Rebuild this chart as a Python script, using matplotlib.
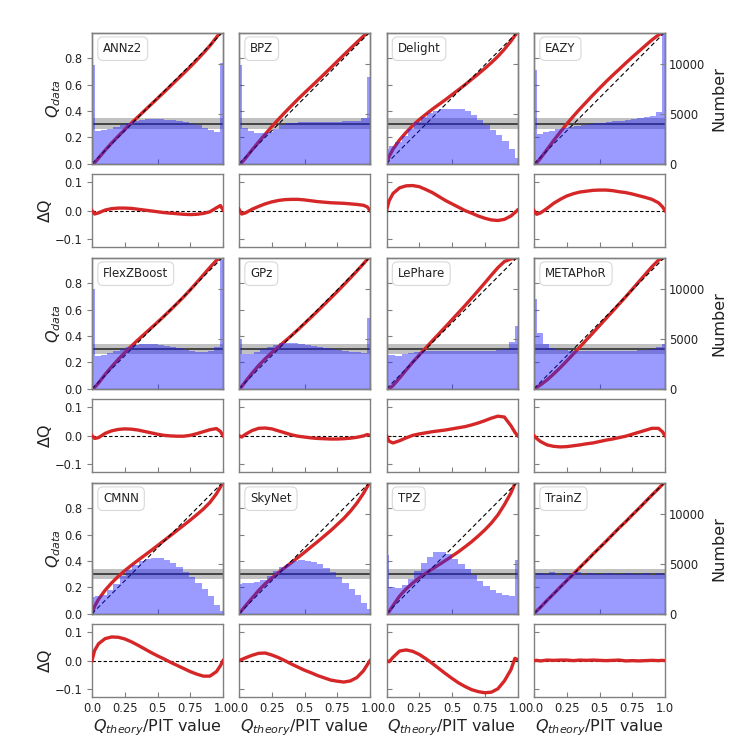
import numpy as np
import matplotlib
matplotlib.use("Agg")
import matplotlib.pyplot as plt

plt.rcParams['font.family'] = ['DejaVu Sans']

methods = ["ANNz2", "BPZ", "Delight", "EAZY",
           "FlexZBoost", "GPz", "LePhare", "METAPhoR",
           "CMNN", "SkyNet", "TPZ", "TrainZ"]

# Q_theory sample points for the Delta Q curves
q_theory = [0.0, 0.02, 0.05, 0.10, 0.15, 0.20, 0.25, 0.30, 0.35, 0.40, 0.45, 0.50,
            0.55, 0.60, 0.65, 0.70, 0.75, 0.80, 0.85, 0.90, 0.95, 0.98, 1.0]

# Delta Q = Q_data - Q_theory
dq_annz2 = [0.0, -0.012, -0.008, 0.002, 0.007, 0.009, 0.009, 0.008, 0.005, 0.002, -0.001, -0.004,
            -0.007, -0.009, -0.011, -0.013, -0.014, -0.013, -0.010, -0.004, 0.010, 0.018, 0.003]
dq_bpz = [0.005, -0.012, -0.008, 0.005, 0.015, 0.024, 0.031, 0.036, 0.039, 0.040, 0.040, 0.038,
          0.035, 0.032, 0.030, 0.028, 0.027, 0.026, 0.024, 0.022, 0.019, 0.013, 0.0]
dq_delight = [0.0, 0.035, 0.061, 0.081, 0.088, 0.089, 0.085, 0.075, 0.064, 0.050, 0.036, 0.024,
              0.012, 0.0, -0.009, -0.019, -0.027, -0.033, -0.035, -0.031, -0.019, -0.007, 0.002]
dq_eazy = [0.0, -0.013, -0.008, 0.008, 0.026, 0.040, 0.052, 0.060, 0.066, 0.069, 0.072, 0.073,
           0.073, 0.071, 0.067, 0.064, 0.059, 0.053, 0.047, 0.040, 0.028, 0.014, 0.0]
dq_flexzboost = [0.0, -0.010, -0.007, 0.008, 0.017, 0.022, 0.024, 0.023, 0.020, 0.015, 0.010, 0.005,
                 0.001, -0.001, -0.002, -0.002, 0.001, 0.007, 0.014, 0.021, 0.025, 0.015, 0.0]
dq_gpz = [0.0, -0.005, 0.005, 0.018, 0.026, 0.027, 0.024, 0.017, 0.010, 0.003, -0.002, -0.005,
          -0.008, -0.010, -0.011, -0.012, -0.012, -0.011, -0.009, -0.006, -0.001, 0.004, 0.001]
dq_lephare = [0.0, -0.020, -0.026, -0.018, -0.008, 0.001, 0.006, 0.010, 0.014, 0.017, 0.020, 0.024,
              0.028, 0.032, 0.038, 0.045, 0.053, 0.062, 0.069, 0.066, 0.035, 0.012, 0.0]
dq_metaphor = [0.0, -0.010, -0.021, -0.033, -0.038, -0.040, -0.039, -0.036, -0.033, -0.029, -0.026, -0.021,
               -0.016, -0.012, -0.007, -0.002, 0.005, 0.012, 0.019, 0.026, 0.026, 0.014, 0.0]
dq_cmnn = [0.0, 0.036, 0.060, 0.078, 0.084, 0.083, 0.077, 0.067, 0.055, 0.042, 0.029, 0.017,
           0.006, -0.006, -0.017, -0.028, -0.039, -0.048, -0.055, -0.055, -0.039, -0.018, 0.0]
dq_skynet = [0.0, 0.004, 0.010, 0.019, 0.026, 0.027, 0.020, 0.011, 0.0, -0.012, -0.023, -0.034,
             -0.043, -0.053, -0.061, -0.069, -0.073, -0.076, -0.072, -0.060, -0.036, -0.014, 0.0]
dq_tpz = [0.0, -0.004, 0.012, 0.034, 0.038, 0.033, 0.022, 0.007, -0.010, -0.028, -0.046, -0.063,
          -0.079, -0.092, -0.103, -0.110, -0.114, -0.112, -0.100, -0.072, -0.032, 0.008, 0.004]
dq_trainz = [0.0, 0.001, -0.001, 0.002, 0.001, 0.002, 0.002, 0.0, 0.002, 0.001, 0.002, 0.001,
             0.0, 0.001, 0.002, -0.001, 0.0, -0.001, 0.0, 0.001, 0.0, 0.001, 0.0]

# PIT histogram: first and last narrow edge bins, 20 bins in between
pit_edges = np.concatenate([[0.0], np.linspace(0.02, 0.98, 21), [1.0]])
hist_annz2 = [9900, 3250, 3350, 3500, 3650, 3850, 4050, 4250, 4400, 4450, 4450, 4450, 4400, 4350, 4250, 4150, 4000, 3850, 3600, 3400, 3150, 10100]
hist_bpz = [9900, 3550, 3300, 3100, 3050, 3150, 3500, 3850, 4050, 4100, 4150, 4200, 4200, 4200, 4200, 4200, 4200, 4250, 4250, 4300, 4600, 8700]
hist_delight = [1500, 1800, 2200, 2800, 3500, 4200, 4700, 5100, 5300, 5450, 5480, 5500, 5450, 5250, 4900, 4350, 3850, 3400, 2900, 2300, 1500, 600]
hist_eazy = [9400, 3000, 3150, 3300, 3450, 3550, 3650, 3750, 3850, 3950, 4050, 4100, 4150, 4250, 4300, 4400, 4450, 4550, 4650, 4800, 5200, 13500]
hist_flexzboost = [10000, 3250, 3350, 3550, 3800, 4000, 4200, 4350, 4450, 4450, 4450, 4400, 4300, 4200, 4050, 3900, 3800, 3700, 3650, 3800, 4200, 12900]
hist_gpz = [5000, 3450, 3450, 3700, 3950, 4200, 4400, 4550, 4600, 4600, 4500, 4400, 4300, 4200, 4100, 4000, 3900, 3800, 3700, 3650, 3600, 7100]
hist_lephare = [3400, 3350, 3300, 3450, 3600, 3700, 3750, 3800, 3800, 3800, 3800, 3800, 3800, 3800, 3800, 3800, 3800, 3800, 3850, 3950, 4700, 6300]
hist_metaphor = [9000, 5600, 4500, 4100, 3900, 3850, 3800, 3800, 3800, 3800, 3800, 3800, 3800, 3800, 3800, 3800, 3800, 3850, 3900, 4000, 4150, 4500]
hist_cmnn = [1700, 1750, 1900, 2350, 3000, 3750, 4400, 4900, 5250, 5450, 5550, 5550, 5400, 5100, 4700, 4200, 3700, 3100, 2500, 1800, 900, 300]
hist_skynet = [3000, 3050, 3050, 3150, 3400, 3800, 4250, 4650, 5000, 5250, 5350, 5300, 5200, 4950, 4600, 4150, 3650, 3100, 2500, 1850, 1100, 500]
hist_tpz = [5900, 2700, 2600, 2900, 3500, 4300, 5100, 5700, 6150, 6200, 5950, 5500, 5000, 4450, 3850, 3300, 2800, 2350, 2050, 1850, 1750, 5400]
hist_trainz = [4000, 4050, 3950, 4150, 3900, 4100, 4000, 4200, 3850, 4050, 4000, 3950, 4100, 4000, 3950, 4050, 4000, 3950, 4050, 3900, 4050, 4000]

expected_count = 4000
expected_err = 520

dq_all = [dq_annz2, dq_bpz, dq_delight, dq_eazy, dq_flexzboost, dq_gpz,
          dq_lephare, dq_metaphor, dq_cmnn, dq_skynet, dq_tpz, dq_trainz]
hist_all = [hist_annz2, hist_bpz, hist_delight, hist_eazy, hist_flexzboost, hist_gpz,
            hist_lephare, hist_metaphor, hist_cmnn, hist_skynet, hist_tpz, hist_trainz]

q_ticks_main = [0.0, 0.2, 0.4, 0.6, 0.8]
dq_ticks = [-0.1, 0.0, 0.1]
dq_xticks = [0.0, 0.25, 0.5, 0.75, 1.0]
dq_xticklabels = ["0.0", "0.25", "0.5", "0.75", "1.0"]
count_ticks = [0, 5000, 10000]

SPINE = "#808080"
TXT = "#222222"
RED = "#d62728"
COUNT_TOP = 13100
Q_TOP = 0.995

fig = plt.figure(figsize=(7.5, 7.5), dpi=100)
W = 750.0
col_left_px = [92, 239, 386.5, 534]
pw = 131.0
main_h = 131.0
dq_h = 72.7

def style(ax):
    for s in ax.spines.values():
        s.set_color(SPINE)
        s.set_linewidth(1.0)
    ax.tick_params(colors=SPINE, labelcolor=TXT, labelsize=8.3, length=3.5, width=0.8)

xq = np.array(q_theory)
for i, name in enumerate(methods):
    r, c = divmod(i, 4)
    left = col_left_px[c] / W
    main_top = 32.7 + 225 * r
    dq_top = main_top + 141.3
    ax = fig.add_axes([left, 1 - (main_top + main_h) / W, pw / W, main_h / W])
    axd = fig.add_axes([left, 1 - (dq_top + dq_h) / W, pw / W, dq_h / W])
    style(ax); style(axd)

    dq = np.array(dq_all[i])
    qdata = xq + dq

    # main Q-Q panel
    ax.axhspan((expected_count - expected_err) / COUNT_TOP * Q_TOP,
               (expected_count + expected_err) / COUNT_TOP * Q_TOP,
               color="#a0a0a0", alpha=0.65, lw=0, zorder=1)
    ax.axhline(expected_count / COUNT_TOP * Q_TOP, color="#222222", lw=1.1, zorder=2)
    ax.plot(xq, qdata, color=RED, lw=2.4, zorder=3, solid_capstyle="butt")
    ax.plot([0, 1], [0, 1], color="black", lw=0.8, ls=(0, (4, 2.5)), zorder=4)
    ax.set_xlim(0, 1)
    ax.set_ylim(0, Q_TOP)
    ax.set_xticks([0, 0.5, 1.0])
    ax.tick_params(axis="x", direction="in", labelbottom=False)
    ax.set_yticks(q_ticks_main)
    if c == 0:
        ax.tick_params(axis="y", direction="out")
        ax.set_yticklabels(["0.0", "0.2", "0.4", "0.6", "0.8"])
        ax.set_ylabel("$Q_{data}$", fontsize=11.5, color=TXT, labelpad=1)
    else:
        ax.tick_params(axis="y", direction="in", labelleft=False)
    ax.text(0.085, 0.878, name, transform=ax.transAxes, fontsize=8.5, color=TXT,
            va="center", ha="left", zorder=10,
            bbox=dict(boxstyle="round,pad=0.45", fc="white", ec="#d8d8d8", lw=0.8))

    # histogram on twin axis
    axt = ax.twinx()
    style(axt)
    axt.stairs(hist_all[i], pit_edges, fill=True, color="#2020ff", alpha=0.45, lw=0)
    axt.set_ylim(0, COUNT_TOP)
    axt.set_yticks(count_ticks)
    if c == 3:
        axt.tick_params(axis="y", direction="in", pad=3)
        axt.set_yticklabels(["0", "5000", "10000"])
        axt.set_ylabel("Number", fontsize=11.5, color=TXT, labelpad=4)
    else:
        axt.tick_params(axis="y", direction="in", labelright=False)

    # Delta Q panel
    axd.axhline(0, color="black", lw=0.8, ls=(0, (3, 2)), zorder=2)
    axd.plot(xq, dq, color=RED, lw=2.4, zorder=3)
    axd.set_xlim(0, 1)
    axd.set_ylim(-0.128, 0.13)
    axd.set_xticks(dq_xticks)
    axd.set_yticks(dq_ticks)
    axd.tick_params(axis="x", direction="in")
    if r == 2:
        axd.set_xticklabels(dq_xticklabels)
        axd.set_xlabel("$Q_{theory}$/PIT value", fontsize=11.5, color=TXT, labelpad=2)
    else:
        axd.tick_params(axis="x", labelbottom=False)
    if c == 0:
        axd.tick_params(axis="y", direction="out")
        axd.set_yticklabels(["\u22120.1", "0.0", "0.1"])
        axd.set_ylabel("\u0394Q", fontsize=11.5, color=TXT, labelpad=1)
    else:
        axd.tick_params(axis="y", direction="in", labelleft=False)

fig.savefig("out.png", dpi=100, facecolor="white")
